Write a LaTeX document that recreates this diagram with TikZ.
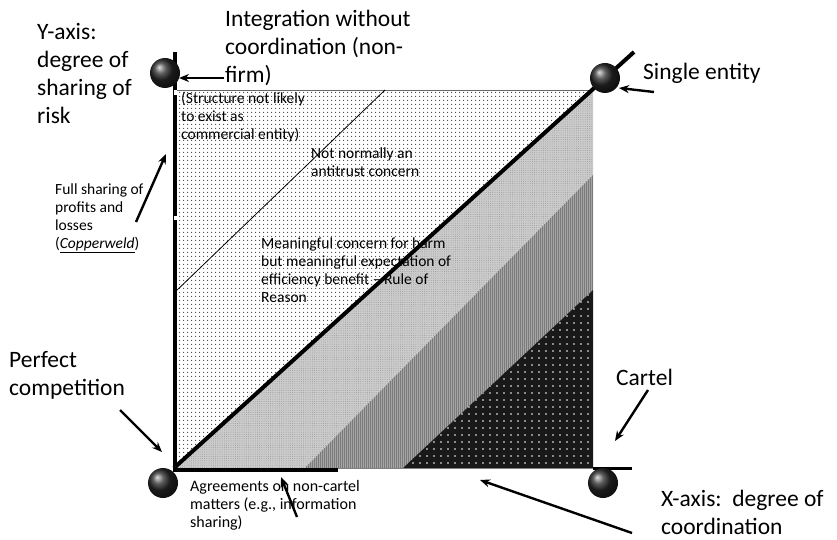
\documentclass[tikz,border=0pt]{standalone}
\usepackage{fontspec}
\setmainfont{Carlito}
\usetikzlibrary{patterns.meta,arrows.meta,shadings}
\begin{document}
\begin{tikzpicture}[x=1pt,y=-1pt,
  bigtxt/.style={anchor=base west,inner sep=0pt,align=left,font=\fontsize{23.5}{28}\selectfont},
  smalltxt/.style={anchor=base west,inner sep=0pt,align=left,font=\fontsize{15.5}{18}\selectfont},
  midtxt/.style={anchor=base west,inner sep=0pt,align=left,font=\fontsize{16}{18}\selectfont},
  pointer/.style={line width=2.4pt,-{Stealth[length=10pt,width=8pt]}},
  axisline/.style={line width=4.5pt},
  sphere/.style={circle,minimum size=30pt,inner sep=0pt,shading=ball,ball color=black!85},
]
\useasboundingbox (0,0) rectangle (837,540);

% coordinates of the square
\coordinate (BL) at (174,468);
\coordinate (TL) at (174,90);
\coordinate (TR) at (593,90);
\coordinate (BR) at (593,468);

% regions
\fill[white] (BL) -- (TL) -- (TR) -- cycle;
\fill[pattern={Dots[distance=4pt,radius=0.75pt]},pattern color=black!75] (BL) -- (TL) -- (TR) -- cycle;
\fill[black!20] (BL) -- (TR) -- (593,175) -- (305,468) -- cycle;
\fill[pattern={Dots[distance=2.2pt,radius=0.5pt]},pattern color=black!40] (BL) -- (TR) -- (593,175) -- (305,468) -- cycle;
\fill[black!35] (305,468) -- (593,175) -- (593,290) -- (403,468) -- cycle;
\fill[pattern={Lines[angle=90,distance=2pt,line width=0.5pt]},pattern color=black!52] (305,468) -- (593,175) -- (593,290) -- (403,468) -- cycle;
\fill[black!90] (403,468) -- (593,290) -- (BR) -- cycle;
\fill[pattern={Dots[distance=7pt,radius=0.9pt]},pattern color=white] (403,468) -- (593,290) -- (BR) -- cycle;

% square edges
\draw[black!60,line width=0.6pt] (TL) -- (TR);
\draw[black!50,line width=0.6pt] (BL) -- (BR);

% thin diagonal
\coordinate (thinA) at (174,293);
\coordinate (thinB) at (385,90);
\draw[line width=0.8pt] (thinA) -- (thinB);

% thick diagonal
\coordinate (diagEnd) at (634,52);
\draw[line width=4pt] (BL) -- (diagEnd);

% Y axis thick line
\coordinate (ytop) at (175,52);
\coordinate (ybot) at (175,470);
\draw[axisline] (ytop) -- (ybot);
\fill[white] (173.5,90) rectangle (177,95);
\fill[white] (173.5,216) rectangle (177,220);

% X axis thick lines
\coordinate (xstart) at (173,470);
\coordinate (xend) at (338,470);
\draw[axisline] (xstart) -- (xend);
\coordinate (crEnd) at (632,468);
\draw[line width=3pt] (BR) -- (crEnd);

% spheres
\node[sphere] (ballTL) at (165,73) {};
\node[sphere] (ballTR) at (605,78) {};
\node[sphere] (ballBL) at (163,483) {};
\node[sphere] (ballBR) at (603,483) {};

% big labels (anchor = baseline of last line)
\node[bigtxt] (integ) at (225,83) {Integration without\\coordination (non-\\firm)};
\node[bigtxt] (yaxis) at (37,124) {Y-axis:\\degree of\\sharing of\\risk};
\node[bigtxt] (single) at (643,80) {Single entity};
\node[bigtxt] (perfect) at (9,395) {Perfect\\competition};
\node[bigtxt] (cartel) at (616,385) {Cartel};
\node[bigtxt] (xaxis) at (661,534) {X-axis:\ \ degree of\\coordination};

% small labels (anchor = baseline of last line)
\node[smalltxt] (struct) at (181,140) {(Structure not likely\\to exist as\\commercial entity)};
\node[smalltxt] (notnorm) at (311,177) {Not normally an\\antitrust concern};
\node[smalltxt] (meaning) at (261,302) {Meaningful concern for harm\\but meaningful expectation of\\efficiency benefit – Rule of\\Reason};
\node[smalltxt] (fullshare) at (55,248) {Full sharing of\\profits and\\losses\\(\underline{\textit{Copperweld}})};
\node[midtxt] (agree) at (190,527) {Agreements on non-cartel\\matters (e.g., information\\sharing)};

% arrows
\coordinate (firmTail) at (224,78);
\coordinate (firmTip) at (179,78);
\draw[pointer] (firmTail) -- (firmTip);
\coordinate (singleTail) at (654,92);
\coordinate (singleTip) at (619,88);
\draw[pointer] (singleTail) -- (singleTip);
\coordinate (fullTail) at (136,222);
\coordinate (fullTip) at (166,154);
\draw[pointer] (fullTail) -- (fullTip);
\coordinate (perfTail) at (120,410);
\coordinate (perfTip) at (162,452);
\draw[pointer] (perfTail) -- (perfTip);
\coordinate (agrTail) at (297,517);
\coordinate (agrTip) at (281,477);
\draw[pointer] (agrTail) -- (agrTip);
\coordinate (cartTail) at (648,390);
\coordinate (cartTip) at (615,441);
\draw[pointer] (cartTail) -- (cartTip);
\coordinate (xTail) at (632,533);
\coordinate (xTip) at (480,480);
\draw[pointer] (xTail) -- (xTip);
\end{tikzpicture}
\end{document}
